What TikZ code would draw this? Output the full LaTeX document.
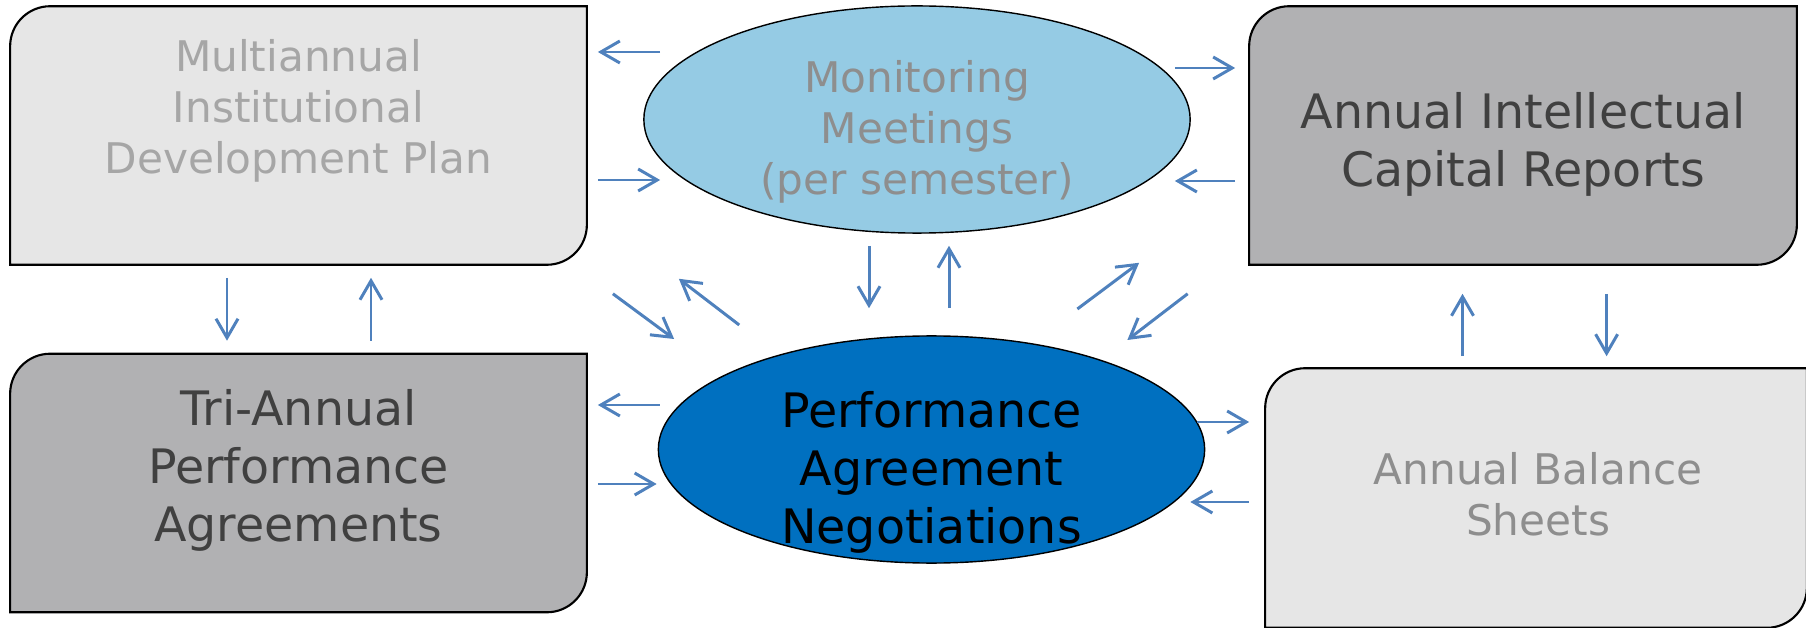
\documentclass[tikz,border=0pt]{standalone}
\usepackage{fontspec}
\setmainfont{DejaVu Sans}
\usetikzlibrary{shapes.geometric,arrows.meta,backgrounds}

\definecolor{boxlight}{HTML}{E6E6E6}
\definecolor{boxdark}{HTML}{B1B1B3}
\definecolor{meetblue}{HTML}{95CBE4}
\definecolor{negblue}{HTML}{0070C0}
\definecolor{arrowblue}{HTML}{4F81BD}
\definecolor{textpale}{HTML}{A6A6A6}
\definecolor{textgrey}{HTML}{8E8E8E}
\definecolor{textdark}{HTML}{404040}

\begin{document}
\begin{tikzpicture}[x=0.01cm, y=0.01cm,
  docbox/.style={rectangle, inner sep=0pt, minimum width=5.75cm, minimum height=2.57cm},
  oval/.style={ellipse, draw=black, line width=0.4pt, inner sep=0pt, minimum width=5.46cm, minimum height=2.27cm},
  bigtext/.style={align=center, inner sep=0pt, font=\fontsize{13.5}{16.5}\selectfont},
  smalltext/.style={align=center, inner sep=0pt, font=\fontsize{12}{14.5}\selectfont},
  flow/.style={-{Straight Barb[length=1.9mm, width=2.2mm]}, line width=0.85pt, draw=arrowblue}]
  \useasboundingbox (0,0) rectangle (1806,627);

  % Boxes on the left
  \node (plan) [docbox] at (298.5,491.5) {};
  \node (triannual) [docbox] at (298.5,144) {};
  % Boxes on the right
  \node (reports) [docbox, minimum width=5.46cm] at (1523,491.5) {};
  \node (balance) [docbox, minimum width=5.40cm, minimum height=2.58cm] at (1536,129) {};
  % Ellipses in the middle
  \node (meetings) [oval, fill=meetblue] at (917,507.5) {};
  \node (negotiation) [oval, fill=negblue] at (931.5,177.5) {};

  % Box outlines, two rounded corners
  \begin{scope}[on background layer]
    \foreach \b/\c in {plan/boxlight, triannual/boxdark, reports/boxdark, balance/boxlight}
      \draw[line width=0.6pt, fill=\c] (\b.south west) -- ([yshift=-4mm]\b.north west)
        arc[start angle=180, end angle=90, radius=4mm] -- (\b.north east)
        -- ([yshift=4mm]\b.south east) arc[start angle=0, end angle=-90, radius=4mm] -- cycle;
  \end{scope}

  % Texts
  \node (plan-t) [smalltext, text=textpale] at ([shift={(0,24.5)}]plan.center) {Multiannual\\Institutional\\Development Plan};
  \node (tri-t) [bigtext, text=textdark] at ([shift={(0,13)}]triannual.center) {Tri-Annual\\Performance\\Agreements};
  \node (rep-t) [bigtext, text=textdark] at ([shift={(0,-8.5)}]reports.center) {Annual Intellectual\\Capital Reports};
  \node (bal-t) [smalltext, text=textgrey] at ([shift={(2,3.5)}]balance.center) {Annual Balance\\Sheets};
  \node (meet-t) [smalltext, text=textgrey] at ([shift={(0,-12.5)}]meetings.center) {Monitoring\\Meetings\\(per semester)};
  \node (neg-t) [bigtext] at ([shift={(0,-22.5)}]negotiation.center) {Performance\\Agreement\\Negotiations};

  % Plan <-> meetings
  \draw[flow] ([shift={(17,67.5)}]meetings.west) -- ([shift={(11,83.5)}]plan.east);
  \draw[flow] ([shift={(11,-44.5)}]plan.east) -- ([shift={(17,-60.5)}]meetings.west);
  % Tri-annual <-> negotiation
  \draw[flow] ([shift={(2,44.5)}]negotiation.west) -- ([shift={(11,78)}]triannual.east);
  \draw[flow] ([shift={(11,-1)}]triannual.east) -- ([shift={(-1,-34.5)}]negotiation.west);
  % Plan <-> tri-annual
  \draw[flow] ([shift={(-71.5,-13)}]plan.south) -- ([shift={(-71.5,13)}]triannual.north);
  \draw[flow] ([shift={(72.5,13)}]triannual.north) -- ([shift={(72.5,-13)}]plan.south);
  % Meetings <-> negotiation
  \draw[flow] ([shift={(-48,-12)}]meetings.south) -- ([shift={(-62.5,27)}]negotiation.north);
  \draw[flow] ([shift={(17.5,27)}]negotiation.north) -- ([shift={(32,-12)}]meetings.south);
  % Diagonals
  \draw[flow] ([shift={(26,-29)}]plan.south east) -- ([shift={(16.5,110.5)}]negotiation.west);
  \draw[flow] ([shift={(81.6,124.5)}]negotiation.west) -- ([shift={(92,-14)}]plan.south east);
  \draw[flow] ([shift={(-128,140.5)}]negotiation.east) -- ([shift={(-110,2)}]reports.south west);
  \draw[flow] ([shift={(-61.5,-29)}]reports.south west) -- ([shift={(-78,109.5)}]negotiation.east);
  % Meetings <-> reports
  \draw[flow] ([shift={(-16,51.5)}]meetings.east) -- ([shift={(-14,67.5)}]reports.west);
  \draw[flow] ([shift={(-14,-45.5)}]reports.west) -- ([shift={(-16,-61.5)}]meetings.east);
  % Negotiation <-> balance
  \draw[flow] ([shift={(-8,27.5)}]negotiation.east) -- ([shift={(-16,76)}]balance.west);
  \draw[flow] ([shift={(-16,-4)}]balance.west) -- ([shift={(-15,-52.5)}]negotiation.east);
  % Balance <-> reports
  \draw[flow] ([shift={(-73.5,12)}]balance.north) -- ([shift={(-60.5,-29)}]reports.south);
  \draw[flow] ([shift={(83.6,-29)}]reports.south) -- ([shift={(70.6,12)}]balance.north);
\end{tikzpicture}
\end{document}
